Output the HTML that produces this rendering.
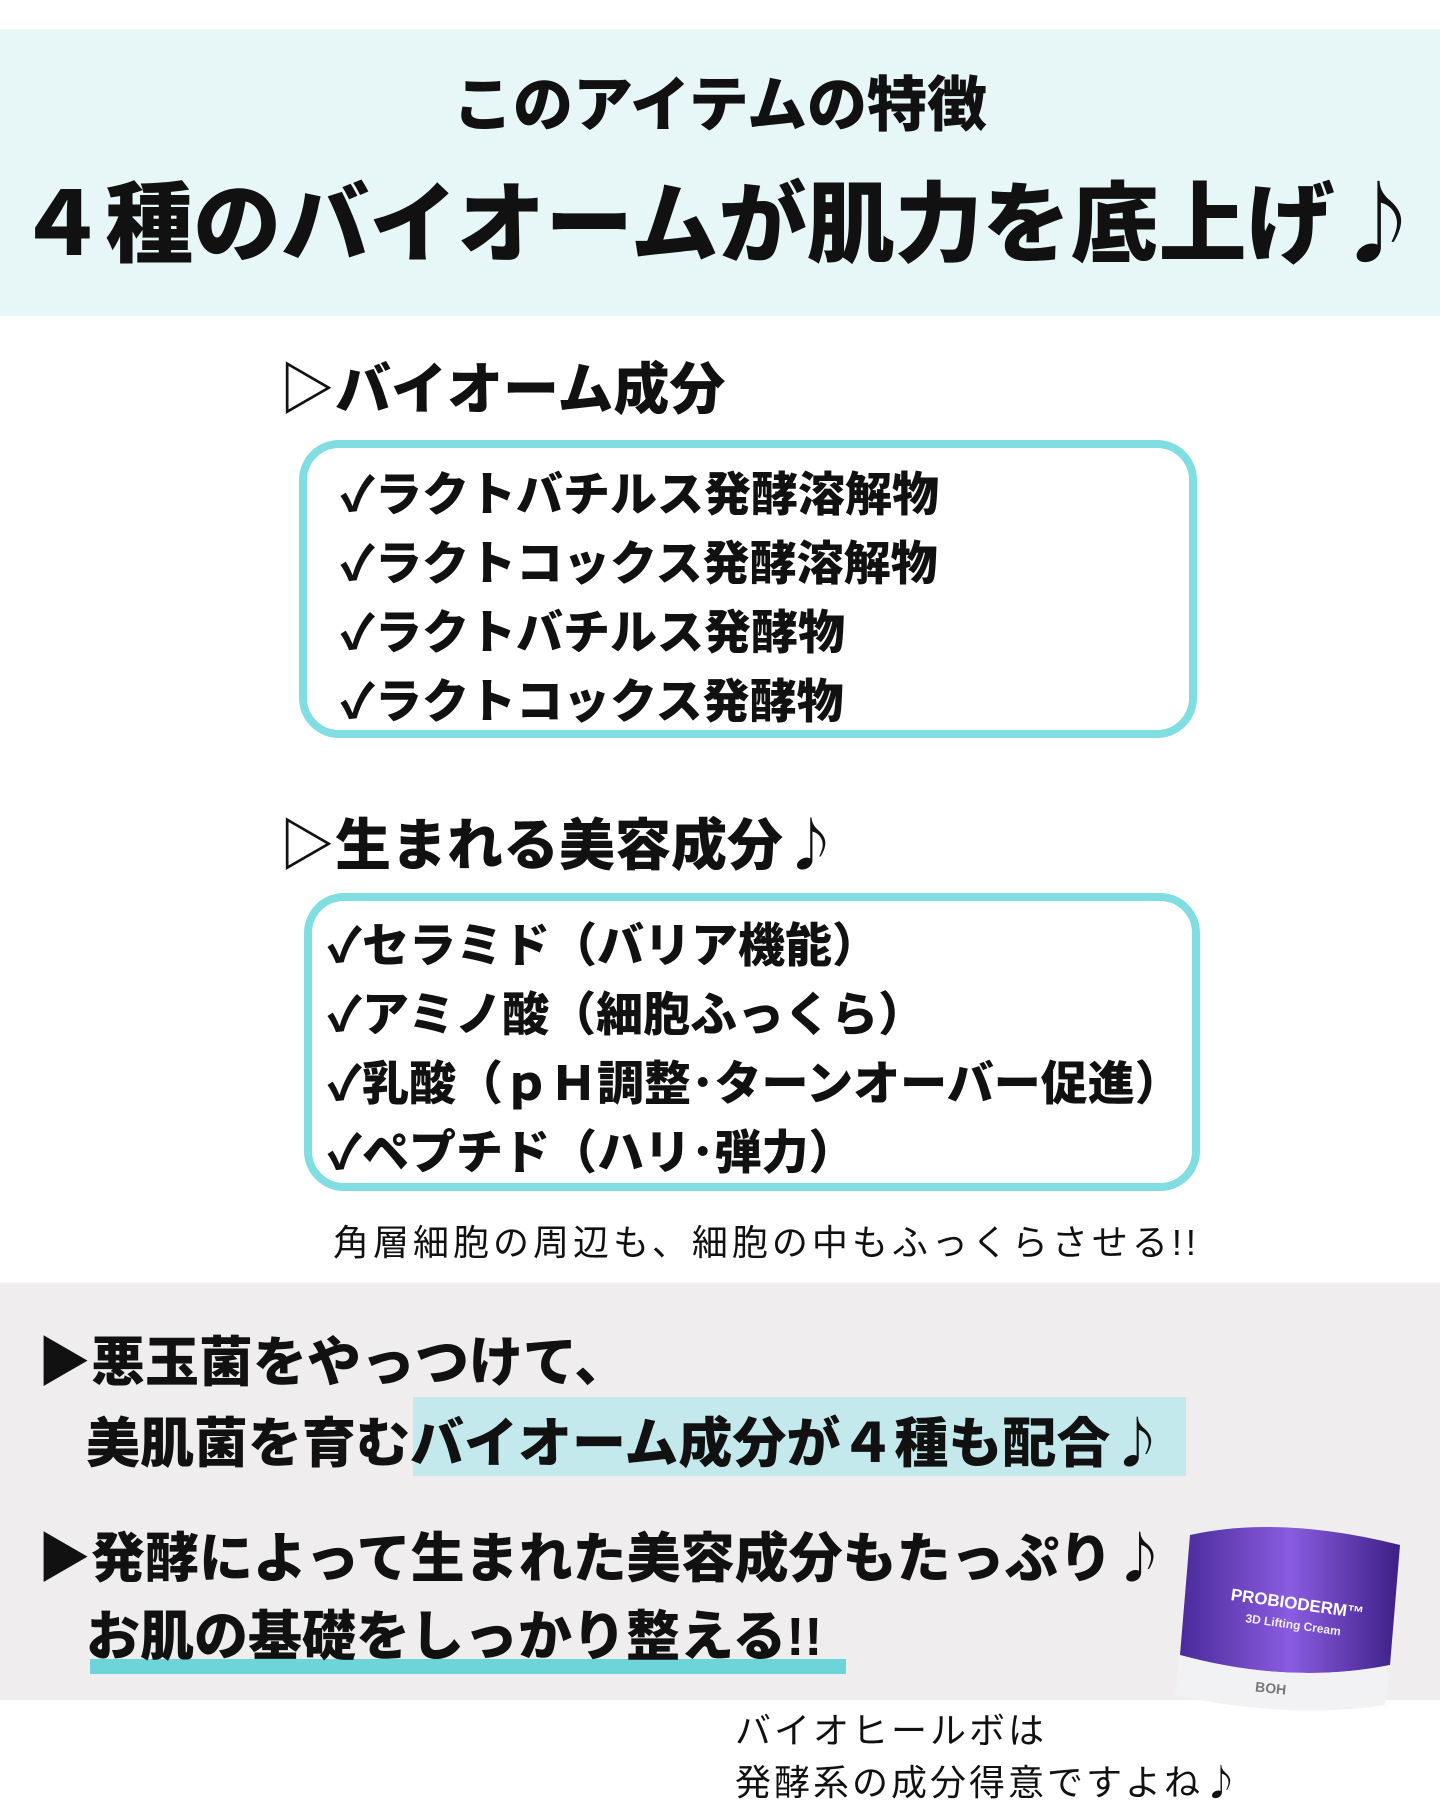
<!DOCTYPE html>
<html><head><meta charset="utf-8"><style>
*{margin:0;padding:0;box-sizing:border-box}
body{width:1440px;height:1800px;background:#fff;position:relative;overflow:hidden;font-family:"Liberation Sans","Noto Sans CJK JP",sans-serif;font-weight:bold;color:#111}
.a{position:absolute;white-space:nowrap;line-height:1}
.box{position:absolute;border:8px solid #80dde2;border-radius:40px;background:#fff}
.hand{font-weight:normal;font-family:"Liberation Sans","Noto Sans CJK JP",sans-serif}
.n{font-family:"Noto Sans CJK JP",sans-serif;line-height:1}
.l{font-size:47px;font-weight:900}
</style></head><body>
<div class="a" style="left:0;top:29px;width:1440px;height:287px;background:#e7f7f8"></div>
<div class="a" style="left:0;top:76px;width:1440px;text-align:center;font-size:60px;font-weight:900">このアイテムの特徴</div>
<div class="a" style="left:0;top:174px;width:1440px;text-align:center;font-size:88px;font-weight:900">４種のバイオームが肌力を底上げ<span class="n">♪</span></div>

<div class="a" style="left:279px;top:362px;font-size:56px;font-weight:900">▷バイオーム成分</div>
<div class="box" style="left:299px;top:440px;width:898px;height:298px"></div>
<div class="a l" style="left:340px;top:467px"><span class="n">✓</span>ラクトバチルス発酵溶解物</div>
<div class="a l" style="left:340px;top:536px"><span class="n">✓</span>ラクトコックス発酵溶解物</div>
<div class="a l" style="left:340px;top:605px"><span class="n">✓</span>ラクトバチルス発酵物</div>
<div class="a l" style="left:340px;top:674px"><span class="n">✓</span>ラクトコックス発酵物</div>

<div class="a" style="left:279px;top:814px;font-size:56px;font-weight:900">▷生まれる美容成分<span class="n">♪</span></div>
<div class="box" style="left:304px;top:893px;width:896px;height:298px"></div>
<div class="a l" style="left:327px;top:918px"><span class="n">✓</span>セラミド（バリア機能）</div>
<div class="a l" style="left:327px;top:987px"><span class="n">✓</span>アミノ酸（細胞ふっくら）</div>
<div class="a l" style="left:327px;top:1056px"><span class="n">✓</span>乳酸（ｐＨ調整･ターンオーバー促進）</div>
<div class="a l" style="left:327px;top:1125px"><span class="n">✓</span>ペプチド（ハリ･弾力）</div>
<div class="a hand" style="left:333px;top:1225px;font-size:36px;letter-spacing:4px">角層細胞の周辺も、細胞の中もふっくらさせる!!</div>

<div class="a" style="left:0;top:1283px;width:1440px;height:417px;background:#efeded"></div>
<div class="a" style="left:413px;top:1397px;width:773px;height:79px;background:#c4e9ec"></div>
<div class="a" style="left:90px;top:1659px;width:756px;height:15px;background:#6dd5da"></div>
<div class="a" style="left:37px;top:1336px;font-size:54px;font-weight:900">▶悪玉菌をやっつけて、</div>
<div class="a" style="left:86px;top:1412px;font-size:54px;font-weight:900">美肌菌を育むバイオーム成分が４種も配合<span class="n">♪</span></div>
<div class="a" style="left:37px;top:1527px;font-size:54px;font-weight:900">▶発酵によって生まれた美容成分もたっぷり<span class="n">♪</span></div>
<div class="a" style="left:86px;top:1610px;font-size:54px;font-weight:900">お肌の基礎をしっかり整える!!</div>

<svg class="a" style="left:1160px;top:1515px" width="260" height="200" viewBox="0 0 260 200">
<defs><linearGradient id="g" x1="0" x2="1"><stop offset="0" stop-color="#4a2a9a"/><stop offset=".5" stop-color="#8a5ce0"/><stop offset="1" stop-color="#3c1f86"/></linearGradient></defs>
<path d="M30 20 Q120 0 240 30 L230 150 Q130 170 20 140 Z" fill="url(#g)"/>
<path d="M20 140 Q130 170 230 150 L225 190 Q130 205 15 180 Z" fill="#f2f2f4"/>
<text x="70" y="92" font-size="17" fill="#fff" transform="rotate(8 120 90)" font-family="Liberation Sans">PROBIODERM™</text>
<text x="85" y="112" font-size="12" fill="#eee" transform="rotate(8 120 110)" font-family="Liberation Sans">3D Lifting Cream</text>
<text x="95" y="178" font-size="14" fill="#777" transform="rotate(6 110 175)" font-family="Liberation Sans">BOH</text>
</svg>

<div class="a hand" style="left:735px;top:1705px;font-size:36px;line-height:52px;letter-spacing:3px">バイオヒールボは<br>発酵系の成分得意ですよね<span class="n">♪</span></div>
</body></html>
